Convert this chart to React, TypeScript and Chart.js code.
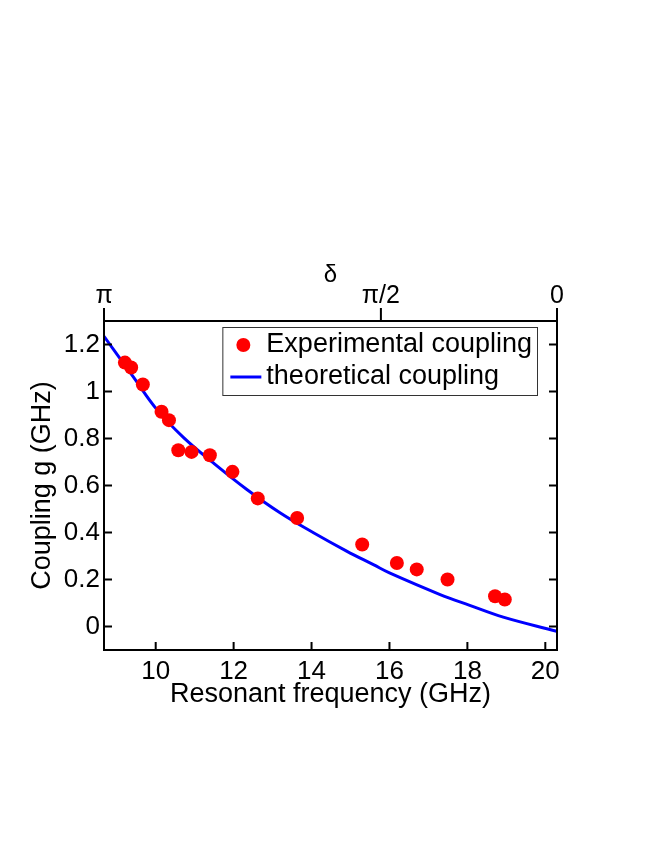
import React, { useEffect, useRef } from "react";
import { Chart, registerables } from "chart.js";

Chart.register(...registerables);

// ---- data ----
const expFreq = [9.21, 9.37, 9.67, 10.15, 10.34, 10.58, 10.92, 11.39, 11.97, 12.62, 13.63, 15.3, 16.19, 16.7, 17.49, 18.71, 18.96];
const expCoupling = [1.123, 1.102, 1.03, 0.914, 0.878, 0.75, 0.743, 0.729, 0.658, 0.545, 0.462, 0.349, 0.27, 0.243, 0.2, 0.129, 0.115];

const theoFreq = [8.673, 9.425, 10.02, 10.71, 11.48, 12.34, 13.19, 14.05, 14.9, 15.6, 16.0, 17.3, 18.06, 18.92, 20.29];
const theoCoupling = [1.235, 1.062, 0.925, 0.805, 0.696, 0.583, 0.484, 0.399, 0.321, 0.262, 0.228, 0.136, 0.09, 0.04, -0.02];

const xTickValues = [10, 12, 14, 16, 18, 20];
const yTickValues = [0, 0.2, 0.4, 0.6, 0.8, 1, 1.2];
const deltaTickFreqs = [8.673, 15.78, 20.3];
const deltaTickLabels = ["π", "π/2", "0"];

const seriesLabels = ["Experimental coupling", "theoretical coupling"];

const X_MIN = 8.673;
const X_MAX = 20.3;
const Y_MIN = -0.1;
const Y_MAX = 1.3;

const FONT = "'Liberation Sans', Arial, sans-serif";

const framePlugin = {
  id: "frameTicksLegend",
  afterDraw(chart: any) {
    const { ctx, chartArea: a, scales } = chart;
    ctx.save();
    ctx.strokeStyle = "#000";
    ctx.lineWidth = 2;
    ctx.lineCap = "butt";
    ctx.strokeRect(a.left, a.top, a.right - a.left, a.bottom - a.top);
    ctx.beginPath();
    for (const v of yTickValues) {
      const py = scales.y.getPixelForValue(v);
      ctx.moveTo(a.left, py);
      ctx.lineTo(a.left + 8, py);
      ctx.moveTo(a.right, py);
      ctx.lineTo(a.right - 8, py);
    }
    for (const v of xTickValues) {
      const px = scales.x.getPixelForValue(v);
      ctx.moveTo(px, a.bottom);
      ctx.lineTo(px, a.bottom - 8);
    }
    for (const v of deltaTickFreqs) {
      const px = scales.x2.getPixelForValue(v);
      ctx.moveTo(px, a.top);
      ctx.lineTo(px, a.top - 13);
    }
    ctx.stroke();

    // legend inside plot, top-right
    ctx.font = `27px ${FONT}`;
    const textW = Math.max(...seriesLabels.map((s) => ctx.measureText(s).width));
    const boxW = 44 + textW + 5;
    const boxH = 68;
    const bx = a.right - 20 - boxW;
    const by = a.top + 6;
    ctx.fillStyle = "#fff";
    ctx.fillRect(bx, by, boxW, boxH);
    ctx.lineWidth = 1;
    ctx.strokeStyle = "#333";
    ctx.strokeRect(bx + 0.5, by + 0.5, boxW, boxH);
    // marker
    ctx.fillStyle = "#ff0000";
    ctx.beginPath();
    ctx.arc(bx + 21, by + 18, 7, 0, Math.PI * 2);
    ctx.fill();
    // line sample
    ctx.strokeStyle = "#0000ff";
    ctx.lineWidth = 3;
    ctx.beginPath();
    ctx.moveTo(bx + 8, by + 50);
    ctx.lineTo(bx + 39, by + 50);
    ctx.stroke();
    ctx.fillStyle = "#000";
    ctx.textBaseline = "middle";
    ctx.textAlign = "left";
    ctx.fillText(seriesLabels[0], bx + 44, by + 18);
    ctx.fillText(seriesLabels[1], bx + 44, by + 50);
    ctx.restore();
  },
};

export default function App() {
  const ref = useRef<HTMLCanvasElement | null>(null);

  useEffect(() => {
    if (!ref.current) return;
    Chart.defaults.font.family = FONT;
    Chart.defaults.color = "#000";
    const chart = new Chart(ref.current, {
      type: "scatter",
      data: {
        datasets: [
          {
            label: seriesLabels[0],
            data: expFreq.map((f, i) => ({ x: f, y: expCoupling[i] })),
            backgroundColor: "#ff0000",
            borderWidth: 0,
            pointRadius: 7,
            pointHoverRadius: 7,
          },
          {
            label: seriesLabels[1],
            data: theoFreq.map((f, i) => ({ x: f, y: theoCoupling[i] })),
            showLine: true,
            borderColor: "#0000ff",
            borderWidth: 3,
            pointRadius: 0,
            tension: 0.4,
          } as any,
        ],
      },
      options: {
        animation: false,
        responsive: true,
        maintainAspectRatio: false,
        events: [],
        layout: { padding: { left: 0, right: 107, top: 259, bottom: 148 } },
        plugins: { legend: { display: false }, tooltip: { enabled: false } },
        scales: {
          x: {
            type: "linear",
            position: "bottom",
            min: X_MIN,
            max: X_MAX,
            afterBuildTicks: (s: any) => {
              s.ticks = xTickValues.map((v) => ({ value: v }));
            },
            afterFit: (s: any) => {
              s.height = 62;
            },
            grid: { display: false, drawTicks: false },
            border: { display: false },
            ticks: {
              autoSkip: false,
              maxRotation: 0,
              minRotation: 0,
              padding: 6,
              font: { size: 26 },
              color: "#000",
              callback: (v: any) => String(v),
            },
            title: {
              display: true,
              text: "Resonant frequency (GHz)",
              font: { size: 27 },
              color: "#000",
              padding: { top: 0, bottom: 1 },
            },
          },
          x2: {
            type: "linear",
            position: "top",
            min: X_MIN,
            max: X_MAX,
            afterBuildTicks: (s: any) => {
              s.ticks = deltaTickFreqs.map((v) => ({ value: v }));
            },
            afterFit: (s: any) => {
              s.height = 62;
            },
            grid: { display: false, drawTicks: false },
            border: { display: false },
            ticks: {
              autoSkip: false,
              maxRotation: 0,
              minRotation: 0,
              padding: 10,
              font: { size: 25 },
              color: "#000",
              callback: (_v: any, i: number) => deltaTickLabels[i],
            },
            title: {
              display: true,
              text: "δ",
              font: { size: 24 },
              color: "#000",
              padding: { top: 2, bottom: 0 },
            },
          },
          y: {
            type: "linear",
            position: "left",
            min: Y_MIN,
            max: Y_MAX,
            afterBuildTicks: (s: any) => {
              s.ticks = yTickValues.map((v) => ({ value: v }));
            },
            afterFit: (s: any) => {
              s.width = 104;
            },
            grid: { display: false, drawTicks: false },
            border: { display: false },
            ticks: {
              autoSkip: false,
              padding: 4,
              font: { size: 26 },
              color: "#000",
              callback: (v: any) => String(v),
            },
            title: {
              display: true,
              text: "Coupling g (GHz)",
              font: { size: 27 },
              color: "#000",
              padding: { top: 26, bottom: 0 },
            },
          },
        },
      },
      plugins: [framePlugin],
    });
    return () => chart.destroy();
  }, []);

  return (
    <div style={{ position: "fixed", left: 0, top: 0, width: 664, height: 860, background: "#fff" }}>
      <canvas ref={ref} />
    </div>
  );
}
